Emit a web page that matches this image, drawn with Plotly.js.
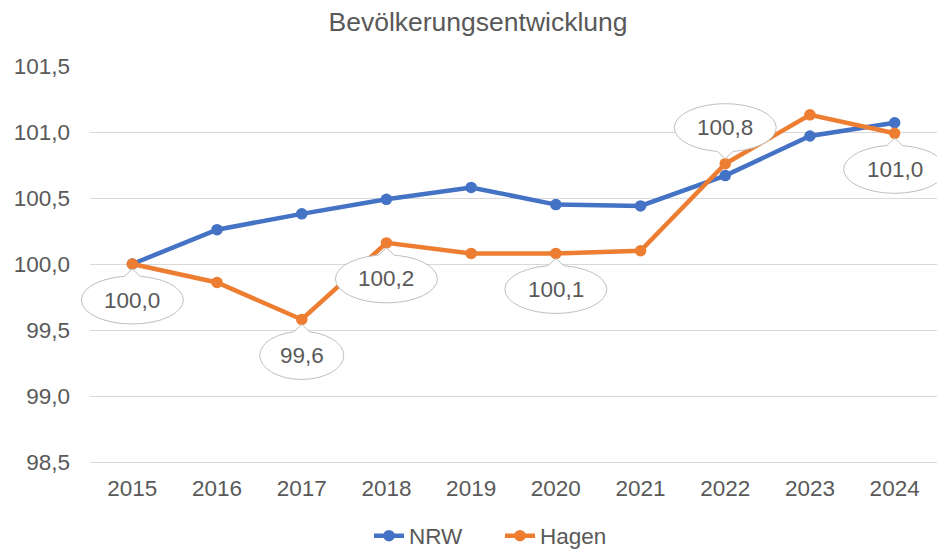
<!DOCTYPE html>
<html><head><meta charset="utf-8">
<script src="https://cdn.plot.ly/plotly-3.0.1.min.js"></script>
<style>html,body{margin:0;padding:0;background:#fff}#chart{width:937px;height:549px}</style>
</head><body><div id="chart"></div>
<script>
// ---- data ----
const years = ['2015','2016','2017','2018','2019','2020','2021','2022','2023','2024'];
const nrw   = [100.00, 100.26, 100.38, 100.49, 100.58, 100.45, 100.44, 100.67, 100.97, 101.07];
const hagen = [100.00,  99.86,  99.58, 100.16, 100.08, 100.08, 100.10, 100.76, 101.13, 100.99];
const seriesNames = ['NRW', 'Hagen'];
const yTicks = [98.5, 99.0, 99.5, 100.0, 100.5, 101.0, 101.5];
// Hagen data labels (years that carry a callout) and side of the callout
const labelYears = ['2015','2017','2018','2020','2022','2024'];
const labelSide  = ['below','below','below','below','above','below'];

// ---- style ----
const txt = '#595959';
const font = 'Liberation Sans, Arial, sans-serif';
const colors = ['#4472C4', '#ED7D31'];
const grid = '#D9D9D9';
const calloutLine = '#BFBFBF';

function fmt(v){ return v.toFixed(1).replace('.', ','); }

const traces = [nrw, hagen].map((vals, i) => ({
  type: 'scatter', mode: 'lines+markers', name: seriesNames[i],
  x: years, y: vals,
  line: {color: colors[i], width: 4.5},
  marker: {color: colors[i], size: 11.5},
  cliponaxis: false
}));

const shapes = [];
const annotations = [];
labelYears.forEach((yr, k) => {
  const idx = years.indexOf(yr);       // category index on the x axis
  const v = hagen[idx];
  const text = fmt(v);
  const s = labelSide[k] === 'above' ? 1 : -1;   // pixel y is upward positive
  const rx = text.length >= 5 ? 51 : 42, ry = 24, dist = 36;
  const base = {xref: 'x', yref: 'y', xsizemode: 'pixel', ysizemode: 'pixel',
                xanchor: idx, yanchor: v, layer: 'above'};
  shapes.push(Object.assign({}, base, {
    type: 'circle', x0: -rx, x1: rx, y0: s*dist - ry, y1: s*dist + ry,
    fillcolor: '#FFFFFF', line: {color: calloutLine, width: 1}
  }));
  const by = s*(dist - ry*Math.sqrt(1 - (8/rx)*(8/rx)));
  const tip = s*5;
  shapes.push(Object.assign({}, base, {
    type: 'path',
    path: `M -8 ${by} L 0 ${tip} L 8 ${by} L 8 ${by + s*4} L -8 ${by + s*4} Z`,
    fillcolor: '#FFFFFF', line: {width: 0}
  }));
  shapes.push(Object.assign({}, base, {
    type: 'path',
    path: `M -8 ${by} L 0 ${tip} L 8 ${by}`,
    fillcolor: 'rgba(0,0,0,0)', line: {color: calloutLine, width: 1}
  }));
  annotations.push({
    xref: 'x', yref: 'y', x: idx, y: v, yshift: s*dist, showarrow: false,
    text: text, font: {family: font, size: 22.5, color: txt}
  });
});

const layout = {
  width: 937, height: 549,
  margin: {l: 90, r: 0, t: 66, b: 87},
  paper_bgcolor: '#FFFFFF', plot_bgcolor: '#FFFFFF',
  separators: ',.',
  font: {family: font, size: 22.5, color: txt},
  title: {text: 'Bevölkerungsentwicklung', font: {family: font, size: 26.5, color: txt},
          x: 478/937, xref: 'container', xanchor: 'center',
          y: 1 - 22/549, yref: 'container', yanchor: 'middle'},
  xaxis: {type: 'category', range: [-0.5, years.length - 0.5], autorange: false,
          showgrid: false, showline: true, linecolor: grid, linewidth: 1,
          ticks: '', ticklabelstandoff: 6, tickfont: {family: font, size: 22.5, color: txt}, fixedrange: true},
  yaxis: {range: [98.5, 101.5], autorange: false, tickvals: yTicks, tickformat: '.1f',
          showgrid: true, gridcolor: grid, gridwidth: 1, zeroline: false, showline: false,
          ticks: '', ticklabelstandoff: 19, tickfont: {family: font, size: 22.5, color: txt},
          fixedrange: true},
  showlegend: true,
  legend: {orientation: 'h', xref: 'container', yref: 'container',
           x: 500/937, xanchor: 'center', y: 1 - 536/549, yanchor: 'middle',
           font: {family: font, size: 22.5, color: txt}, itemwidth: 30,
           entrywidth: 86, entrywidthmode: 'pixels'},
  hovermode: false,
  shapes: shapes,
  annotations: annotations
};

Plotly.newPlot('chart', traces, layout, {staticPlot: true, displayModeBar: false}).then(() => {
  document.querySelectorAll('#chart .shapelayer, #chart .shapelayer [clip-path]')
    .forEach(el => el.removeAttribute('clip-path'));
});
</script>
</body></html>
